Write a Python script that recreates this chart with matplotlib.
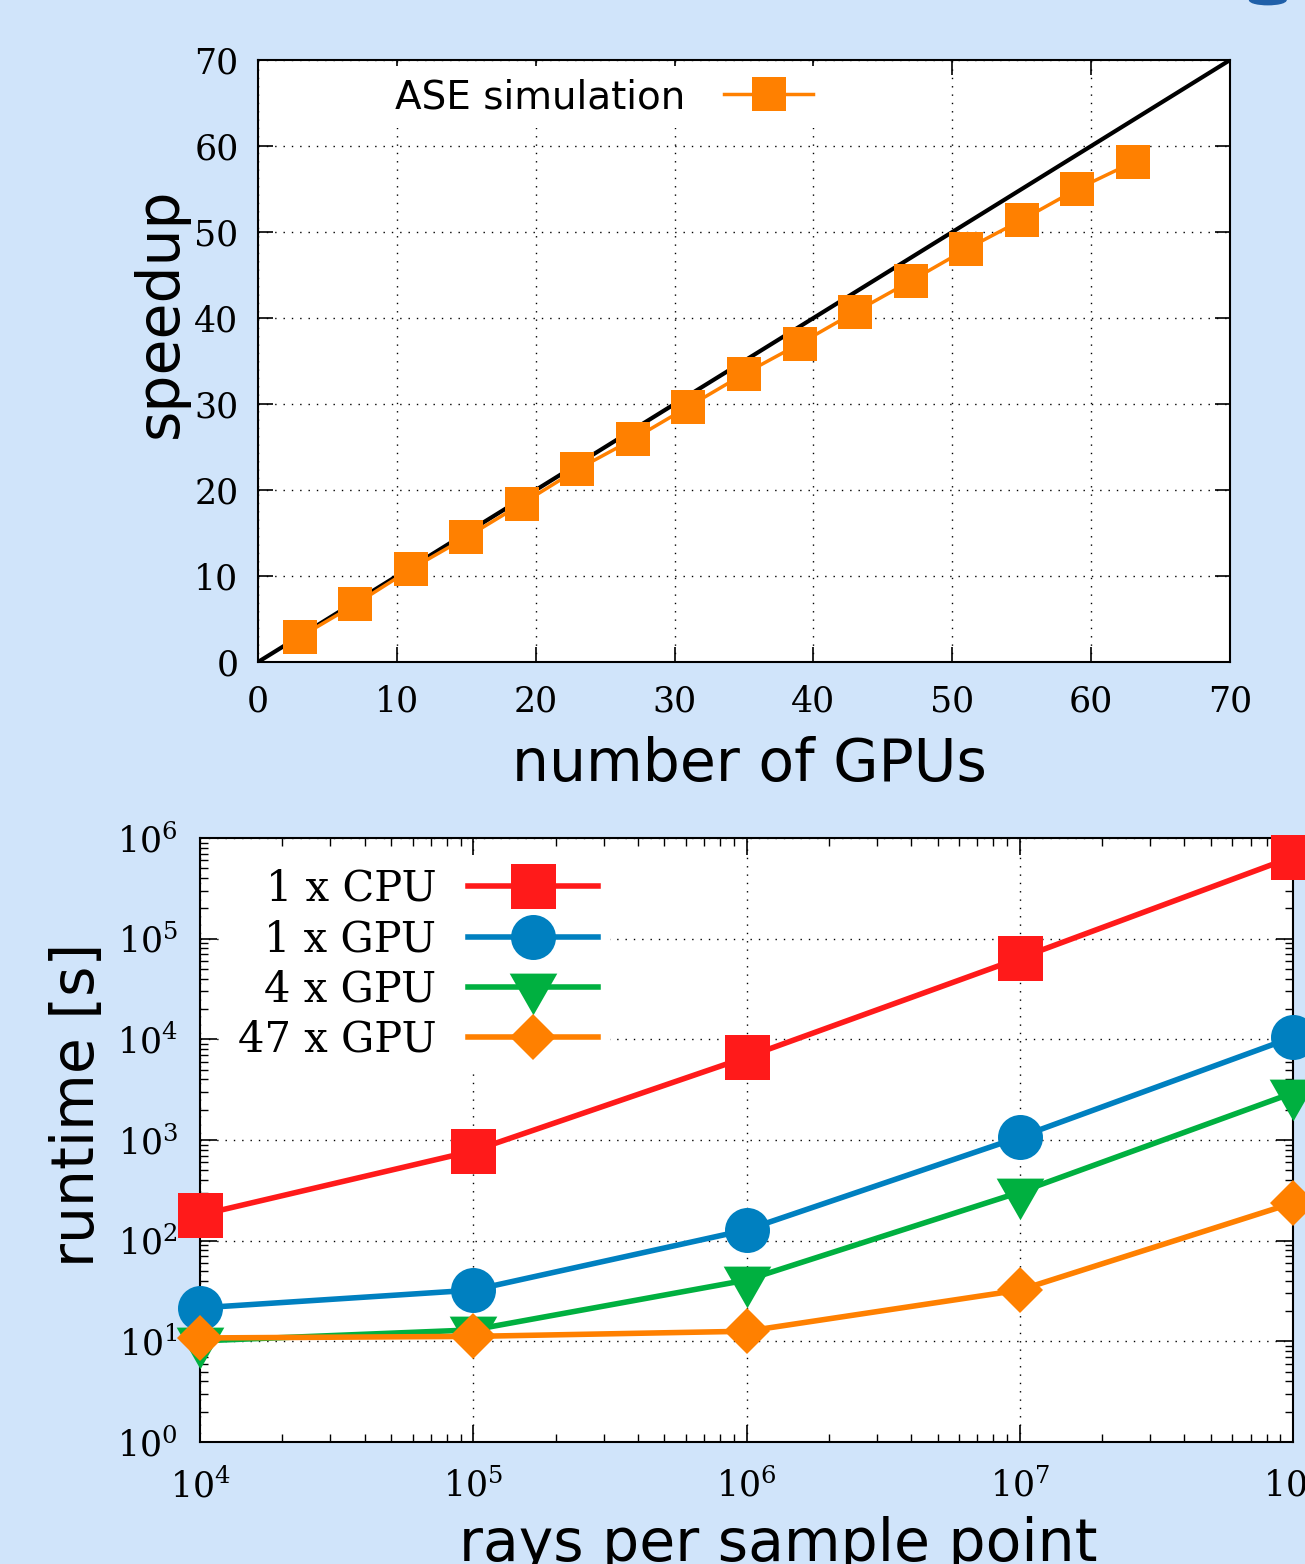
import matplotlib
matplotlib.use("Agg")
import matplotlib.pyplot as plt
from matplotlib.patches import Ellipse

# ---- strong scaling: speedup vs number of GPUs ----
gpus = [3, 7, 11, 15, 19, 23, 27, 31, 35, 39, 43, 47, 51, 55, 59, 63]
speedup = [2.9, 6.7, 10.8, 14.5, 18.4, 22.4, 25.9, 29.7, 33.5, 37.0,
           40.7, 44.3, 48.0, 51.4, 55.0, 58.1]
ideal_gpus = [0, 70]
ideal_speedup = [0, 70]
linear_ticks = [0, 10, 20, 30, 40, 50, 60, 70]

# ---- runtime vs rays per sample point ----
rays = [1e4, 1e5, 1e6, 1e7, 1e8]
runtime_cpu = [180, 780, 6650, 64000, 650000]
runtime_1gpu = [21.5, 32.3, 128, 1070, 10500]
runtime_4gpu = [10.1, 13.0, 40.6, 303, 2940]
runtime_47gpu = [10.8, 11.2, 12.6, 32.3, 237]
series_labels = ["1 x CPU", "1 x GPU", "4 x GPU", "47 x GPU"]

BG = "#d0e4fa"
ORANGE = "#ff8000"
RED = "#ff1a1a"
BLUE = "#0080c0"
GREEN = "#00b040"

plt.rcParams["mathtext.fontset"] = "dejavuserif"
SERIF = ["DejaVu Serif"]
SANS = ["DejaVu Sans"]
TICK_FS = 25
LABEL_FS = 42

fig = plt.figure(figsize=(13.05, 15.64), dpi=100, facecolor=BG)

grid_kw = dict(color="black", linestyle=(0, (1, 5)), linewidth=1.0)

# ------------------------------------------------------------------ top panel
ax1 = fig.add_axes([0.1977, 0.5767, 0.7448, 0.3849])
ax1.set_facecolor("white")
ax1.plot(ideal_gpus, ideal_speedup, color="black", lw=3, zorder=3,
         solid_capstyle="butt")
ax1.plot(gpus, speedup, color=ORANGE, lw=2.5, marker="s", markersize=24,
         markeredgewidth=0, label="ASE simulation", zorder=4)
ax1.set_xlim(0, 70)
ax1.set_ylim(0, 70)
ax1.set_xticks(linear_ticks)
ax1.set_yticks(linear_ticks)
ax1.grid(True, **grid_kw)
ax1.tick_params(direction="in", top=True, right=True, length=11, width=1.2,
                labelsize=TICK_FS)
ax1.tick_params(axis="x", pad=16)
ax1.tick_params(axis="y", pad=14)
for lab in ax1.get_xticklabels() + ax1.get_yticklabels():
    lab.set_family(SERIF)
for sp in ax1.spines.values():
    sp.set_linewidth(1.5)
ax1.set_ylabel("speedup", fontsize=LABEL_FS, family=SANS, va="center")
ax1.yaxis.set_label_coords(-0.1008, 0.581)
ax1.set_xlabel("number of GPUs", fontsize=LABEL_FS, family=SANS, va="center")
ax1.xaxis.set_label_coords(0.506, -0.171)
leg1 = ax1.legend(loc="center left", bbox_to_anchor=(0.1287, 0.9385),
                  markerfirst=False, frameon=True, fancybox=False,
                  framealpha=1, edgecolor="none", facecolor="white",
                  borderaxespad=0, borderpad=0.3, handlelength=2.3,
                  handletextpad=1.0, prop={"family": SANS, "size": 28})

# --------------------------------------------------------------- bottom panel
ax2 = fig.add_axes([0.1533, 0.0780, 0.8375, 0.3862])
ax2.set_facecolor("white")
ax2.set_xscale("log")
ax2.set_yscale("log")

# triangle with its centroid at the marker origin
tri = [(-24, 14), (24, 14), (0, -28)]

styles = [
    (runtime_cpu, RED, dict(marker="s", markersize=32.4)),
    (runtime_1gpu, BLUE, dict(marker="o", markersize=32.4)),
    (runtime_4gpu, GREEN, dict(marker=tri, markersize=40)),
    (runtime_47gpu, ORANGE, dict(marker="D", markersize=23)),
]
for (vals, col, mk), lab in zip(styles, series_labels):
    ax2.plot(rays, vals, color=col, lw=4, markeredgewidth=0, label=lab,
             clip_on=False, zorder=4, **mk)

ax2.set_xlim(1e4, 1e8)
ax2.set_ylim(1e0, 1e6)
ax2.grid(True, which="major", **grid_kw)
ax2.tick_params(which="both", direction="in", top=True, right=True,
                labelsize=TICK_FS)
ax2.tick_params(which="major", length=12, width=1.2)
ax2.tick_params(which="minor", length=6, width=1.0)
ax2.tick_params(axis="x", pad=19)
ax2.tick_params(axis="y", pad=16)
for lab in ax2.get_xticklabels() + ax2.get_yticklabels():
    lab.set_family(SERIF)
for sp in ax2.spines.values():
    sp.set_linewidth(1.5)
ax2.set_ylabel("runtime [s]", fontsize=LABEL_FS, family=SANS, va="center")
ax2.yaxis.set_label_coords(-0.1125, 0.558)
ax2.set_xlabel("rays per sample point", fontsize=LABEL_FS, family=SANS,
               va="center")
ax2.xaxis.set_label_coords(0.529, -0.1705)
leg2 = ax2.legend(loc="center right", bbox_to_anchor=(0.3751, 0.7906),
                  markerfirst=False, frameon=True, fancybox=False,
                  framealpha=1, edgecolor="none", facecolor="white",
                  borderaxespad=0, borderpad=0.3, handlelength=3.1,
                  handletextpad=0.77, labelspacing=0.2,
                  prop={"family": SERIF, "size": 30})

# small logo fragment peeking in at the top-right corner
fig.patches.append(Ellipse((0.9715, 1.0), 0.028, 0.006,
                           transform=fig.transFigure, color="#1f5fa8",
                           zorder=10))

fig.savefig("out.png", dpi=100, facecolor=BG)
